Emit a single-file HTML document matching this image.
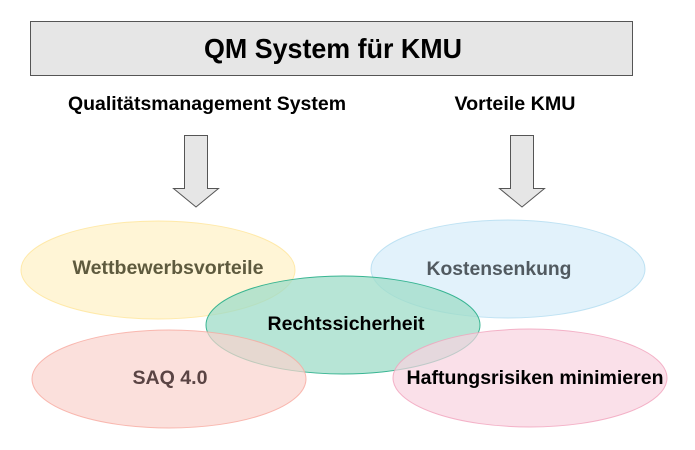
<!DOCTYPE html>
<html><head><meta charset="utf-8"><style>
html,body{margin:0;padding:0;background:#fff;}
svg{display:block;}
text{font-family:"Liberation Sans Narrow","Liberation Sans",sans-serif;font-weight:bold;}
</style></head><body>
<svg width="695" height="450" viewBox="0 0 695 450" xmlns="http://www.w3.org/2000/svg">
<rect x="30.5" y="21.5" width="602" height="54" fill="#e6e6e6" stroke="#555" stroke-width="1"/>
<text x="333" y="58" font-size="28" text-anchor="middle" fill="#000" textLength="258" lengthAdjust="spacingAndGlyphs">QM System für KMU</text>
<text x="207" y="110" font-size="19" text-anchor="middle" fill="#000" textLength="278" lengthAdjust="spacingAndGlyphs">Qualitätsmanagement System</text>
<text x="515" y="110" font-size="19" text-anchor="middle" fill="#000" textLength="121" lengthAdjust="spacingAndGlyphs">Vorteile KMU</text>
<polygon points="184.5,135.5 207.5,135.5 207.5,188.5 218.5,188.5 196,207 173.5,188.5 184.5,188.5" fill="#e6e6e6" stroke="#555"/>
<polygon points="510.5,135.5 533.5,135.5 533.5,188.5 544.5,188.5 522,207 499.5,188.5 510.5,188.5" fill="#e6e6e6" stroke="#555"/>
<ellipse cx="158" cy="270" rx="137" ry="49" fill="#fff2cc" fill-opacity="0.8" stroke="#ffe599" stroke-opacity="0.8"/>
<ellipse cx="508" cy="269" rx="137" ry="49" fill="#dbeffa" fill-opacity="0.8" stroke="#b1dcf0" stroke-opacity="0.8"/>
<ellipse cx="343" cy="325" rx="137" ry="49" fill="#9fdcc8" fill-opacity="0.75" stroke="#27ae88" stroke-opacity="0.9"/>
<ellipse cx="169" cy="379" rx="137" ry="49" fill="#fad3cd" fill-opacity="0.7" stroke="#f8a99f" stroke-opacity="0.8"/>
<ellipse cx="530" cy="378" rx="137" ry="49" fill="#f8d3df" fill-opacity="0.7" stroke="#f1a1bb" stroke-opacity="0.8"/>
<text x="168" y="274" font-size="19" text-anchor="middle" fill="#5e5a3e" textLength="191" lengthAdjust="spacingAndGlyphs">Wettbewerbsvorteile</text>
<text x="499" y="275" font-size="19" text-anchor="middle" fill="#515a60" textLength="145" lengthAdjust="spacingAndGlyphs">Kostensenkung</text>
<text x="346" y="330" font-size="19" text-anchor="middle" fill="#000" textLength="157" lengthAdjust="spacingAndGlyphs">Rechtssicherheit</text>
<text x="170" y="384" font-size="19" text-anchor="middle" fill="#5a4444" textLength="75" lengthAdjust="spacingAndGlyphs">SAQ 4.0</text>
<text x="535" y="384" font-size="19" text-anchor="middle" fill="#000" textLength="257" lengthAdjust="spacingAndGlyphs">Haftungsrisiken minimieren</text>
</svg>
</body></html>
